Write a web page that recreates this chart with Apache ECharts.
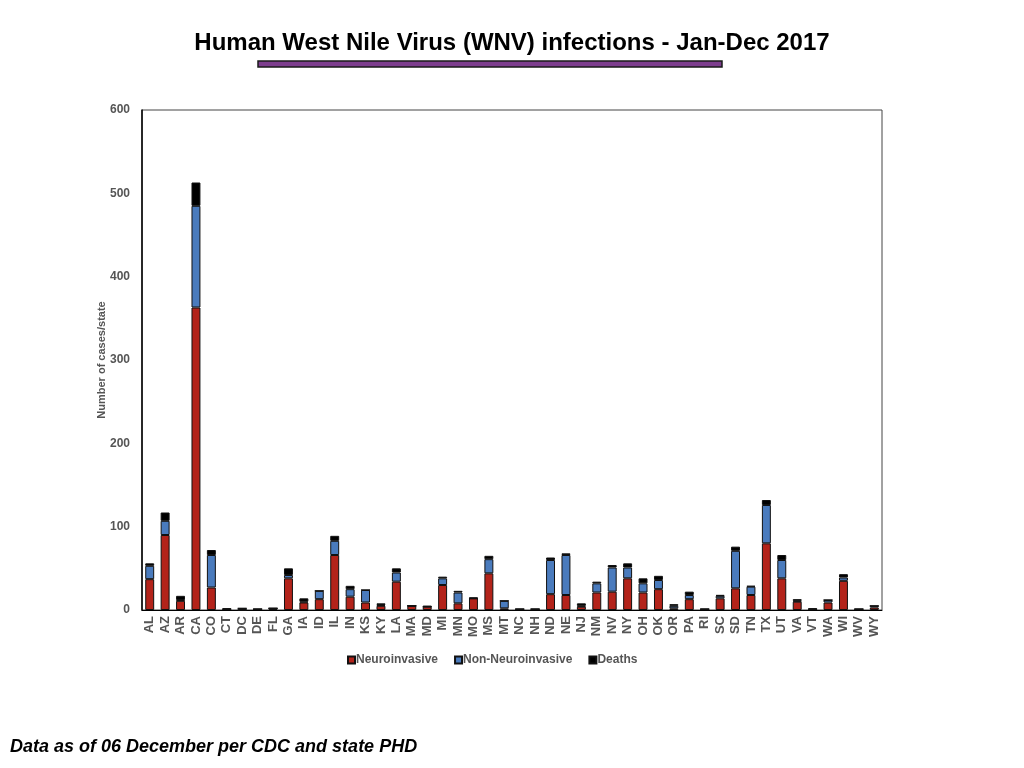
<!DOCTYPE html>
<html>
<head>
<meta charset="utf-8">
<script src="https://cdn.jsdelivr.net/npm/echarts@6/dist/echarts.min.js"></script>
<style>
  html, body { margin: 0; padding: 0; background: #fff; }
  #chart { width: 1024px; height: 768px; }
</style>
</head>
<body>
<div id="chart"></div>
<script>
// states on the x axis
var states = ['AL','AZ','AR','CA','CO','CT','DC','DE','FL','GA','IA','ID','IL','IN','KS','KY',
              'LA','MA','MD','MI','MN','MO','MS','MT','NC','NH','ND','NE','NJ','NM','NV','NY',
              'OH','OK','OR','PA','RI','SC','SD','TN','TX','UT','VA','VT','WA','WI','WV','WY'];

// values
var neuroinvasive = [37,90,11,363,27,1,0,1,2,38,9,13,66,16,9,5,
                     34,5,4,30,8,14,44,2,1,1,19,18,4,21,22,38,
                     21,25,2,13,1,14,26,18,80,38,10,1,9,35,1,3];
var nonNeuro      = [16,17,1,122,39,0,2,0,0,4,1,10,17,9,15,1,
                     11,0,0,8,13,0,17,9,0,0,41,48,1,11,29,13,
                     11,11,3,5,0,3,45,10,46,22,1,0,3,4,0,2];
var deaths        = [3,10,5,28,6,1,0,0,0,8,4,0,6,4,0,2,
                     5,0,1,2,2,1,4,0,0,0,3,2,3,2,3,5,
                     6,5,2,4,0,1,5,1,6,6,2,1,0,4,0,0];

var yTicks = [0,100,200,300,400,500,600];

var myChart = echarts.init(document.getElementById('chart'));

var labelGray = '#555';
var barBorder = { borderColor: '#111', borderWidth: 1 };

var option = {
    backgroundColor: '#fff',
    animation: false,
    title: {
        text: 'Human West Nile Virus (WNV) infections - Jan-Dec 2017',
        left: 'center',
        top: 26,
        textStyle: {
            fontFamily: 'Liberation Sans',
            fontSize: 24,
            fontWeight: 'bold',
            color: '#000'
        }
    },
    graphic: [
        {
            type: 'rect',
            shape: { x: 258, y: 61, width: 464, height: 6 },
            style: { fill: '#7d3d8e', stroke: '#1a1a1a', lineWidth: 1.5 }
        },
        {
            type: 'text',
            left: 10,
            top: 738,
            style: {
                text: 'Data as of 06 December per CDC and state PHD',
                font: 'italic bold 18px "Liberation Sans"',
                fill: '#000'
            }
        }
    ],
    legend: {
        top: 649,
        left: 342,
        icon: 'rect',
        itemWidth: 7,
        itemHeight: 7,
        itemGap: 16,
        textStyle: {
            fontFamily: 'Liberation Sans',
            fontSize: 12,
            fontWeight: 'bold',
            color: labelGray,
            padding: [0, 0, 0, -4]
        },
        data: ['Neuroinvasive', 'Non-Neuroinvasive', 'Deaths']
    },
    grid: {
        left: 142,
        right: 142,
        top: 110,
        bottom: 158,
        show: true,
        borderColor: '#444',
        borderWidth: 1
    },
    xAxis: {
        type: 'category',
        data: states,
        axisLine: { lineStyle: { color: '#000', width: 1 } },
        axisTick: { show: false },
        axisLabel: {
            interval: 0,
            rotate: 90,
            margin: 6,
            fontFamily: 'Liberation Sans',
            fontSize: 13,
            fontWeight: 'bold',
            color: labelGray
        }
    },
    yAxis: {
        type: 'value',
        min: yTicks[0],
        max: yTicks[yTicks.length - 1],
        interval: 100,
        name: 'Number of cases/state',
        nameLocation: 'middle',
        nameGap: 35,
        nameMoveOverlap: false,
        nameTextStyle: {
            fontFamily: 'Liberation Sans',
            fontSize: 11,
            fontWeight: 'bold',
            color: labelGray
        },
        axisLine: { show: true, lineStyle: { color: '#000', width: 1.5 } },
        axisTick: { show: false },
        splitLine: { show: false },
        axisLabel: {
            margin: 12,
            fontFamily: 'Liberation Sans',
            fontSize: 12,
            fontWeight: 'bold',
            color: labelGray
        }
    },
    series: [
        {
            name: 'Neuroinvasive',
            type: 'bar',
            stack: 'total',
            barWidth: '58%',
            itemStyle: Object.assign({ color: '#b3231a' }, barBorder),
            data: neuroinvasive
        },
        {
            name: 'Non-Neuroinvasive',
            type: 'bar',
            stack: 'total',
            itemStyle: Object.assign({ color: '#4a7bbd' }, barBorder),
            data: nonNeuro
        },
        {
            name: 'Deaths',
            type: 'bar',
            stack: 'total',
            itemStyle: Object.assign({ color: '#000' }, barBorder),
            data: deaths
        }
    ]
};

myChart.setOption(option);
window.onresize = function () {
    myChart.resize();
};
</script>
</body>
</html>
